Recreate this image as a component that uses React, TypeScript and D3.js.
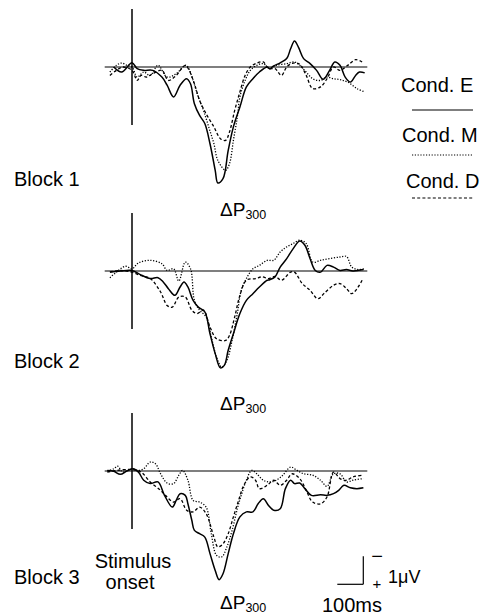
import React from "react";
import * as d3 from "d3";

type Pt = [number, number];

// time (ms) / amplitude (µV, positive plotted downward)
const e1: Pt[] = [[-70,0],[-40,0.18],[0,-0.15],[20,0.06],[45,0.12],[80,0.12],[115,0.36],[135,0.65],[160,1.07],[185,0.65],[210,0.42],[225,0.6],[240,1.31],[260,1.73],[280,2.02],[300,2.74],[320,3.69],[330,4.14],[350,3.99],[370,2.98],[390,2.14],[415,1.43],[440,0.71],[465,0.42],[490,0.18],[520,0],[530,0.06],[545,-0.04],[570,-0.15],[595,-0.3],[610,-0.65],[625,-0.93],[640,-0.71],[660,-0.3],[685,-0.12],[710,0.12],[735,0.44],[760,0.12],[780,-0.18],[800,-0.06],[820,0.36],[840,0.54],[860,0.3],[875,0.18],[895,0.21]];
const m1: Pt[] = [[-85,0.18],[-60,-0.06],[-40,-0.14],[-20,-0.06],[0,0],[20,0.36],[45,0.18],[70,0.3],[100,-0.06],[135,0.36],[170,0.24],[205,-0.06],[215,0],[235,0.48],[255,1.07],[275,1.55],[295,2.14],[315,2.74],[330,3.33],[360,3.69],[375,3.45],[390,2.62],[405,1.79],[415,1.07],[435,0.48],[455,0.12],[480,-0.06],[505,-0.12],[530,0.06],[555,-0.06],[595,-0.12],[625,-0.18],[645,-0.06],[670,0.18],[695,0.42],[725,0.48],[750,0.36],[775,0.42],[800,0.45],[830,0.54],[865,0.77],[895,0.89]];
const d1: Pt[] = [[-85,0.3],[-60,0.12],[-35,0],[0,0.12],[20,0.48],[35,0.3],[55,0.36],[80,0.24],[115,0.12],[140,0.48],[170,0.3],[205,-0.06],[220,0.12],[240,0.6],[260,1.19],[285,1.67],[315,2.14],[340,2.56],[360,2.62],[375,2.32],[395,1.55],[415,0.89],[435,0.3],[455,0],[480,-0.14],[505,-0.18],[525,0.06],[550,0.06],[575,0.3],[595,0],[620,-0.14],[645,-0.1],[670,0.3],[695,0.77],[725,0.71],[750,0.42],[775,0],[800,0.12],[830,-0.06],[860,-0.26],[885,-0.18]];

const e2: Pt[] = [[-85,0.04],[-45,0],[0,-0.02],[30,0.12],[70,0.27],[100,0.24],[120,0.39],[140,0.63],[165,0.87],[185,0.57],[200,0.39],[215,0.57],[235,1.05],[255,1.29],[280,1.46],[300,2.24],[320,2.95],[340,3.46],[355,3.37],[370,2.83],[390,2.24],[415,1.52],[440,1.05],[465,0.81],[490,0.57],[520,0.33],[530,0.31],[550,0.21],[570,-0.14],[595,-0.44],[620,-0.8],[645,-1.07],[665,-0.92],[685,-0.44],[705,-0.02],[725,0.04],[750,-0.2],[775,-0.14],[800,-0.02],[825,-0.05],[850,0],[890,-0.05]];
const m2: Pt[] = [[-85,0.24],[-60,0.04],[-25,-0.17],[0,-0.08],[25,-0.29],[70,-0.38],[115,-0.26],[135,-0.02],[160,-0.08],[180,0.36],[205,-0.32],[225,-0.08],[240,1.05],[260,1.4],[285,1.64],[305,2.36],[325,3.07],[345,3.43],[365,3.19],[385,2.48],[405,1.52],[420,0.69],[440,0.27],[465,-0.08],[490,-0.2],[520,-0.38],[545,-0.38],[570,-0.68],[595,-0.86],[620,-0.98],[645,-1.1],[670,-0.98],[695,-0.32],[725,-0.38],[760,-0.44],[800,-0.5],[825,-0.52],[845,-0.14],[870,-0.05],[895,-0.08]];
const d2: Pt[] = [[-85,0.04],[-45,-0.02],[0,0.04],[30,0.15],[70,0.27],[110,0.75],[135,1.23],[155,1.29],[180,0.93],[205,0.93],[230,1.4],[250,1.52],[275,1.4],[300,2.0],[325,2.42],[360,2.48],[375,2.3],[395,1.64],[415,0.87],[440,0.33],[475,0.27],[500,0.21],[525,0.27],[550,0.19],[575,0.33],[610,0.04],[625,0.04],[655,0.45],[685,0.69],[715,0.99],[740,0.79],[775,0.51],[800,0.45],[825,0.63],[845,0.81],[870,0.57],[885,0.33]];

const e3: Pt[] = [[-95,-0.02],[-70,0.01],[-45,0.12],[-20,0],[5,-0.08],[25,0.04],[45,0.33],[70,0.45],[100,0.39],[125,0.87],[155,1.29],[170,1.05],[185,0.81],[205,0.87],[215,1.17],[230,1.76],[240,2.12],[260,2.24],[280,2.36],[300,2.95],[320,3.55],[335,3.88],[350,3.67],[370,2.95],[390,2.24],[415,1.64],[440,1.46],[465,1.46],[485,1.17],[505,0.99],[525,1.23],[545,1.4],[570,1.35],[590,0.63],[610,0.33],[625,0.45],[645,0.43],[665,0.63],[690,0.87],[725,0.85],[750,0.87],[775,0.81],[795,0.69],[815,0.51],[840,0.6],[865,0.63],[890,0.6]];
const m3: Pt[] = [[-95,0],[-70,-0.08],[-55,-0.17],[-35,0.04],[0,-0.08],[25,-0.02],[45,-0.08],[70,-0.32],[90,-0.26],[110,0.1],[135,0.43],[160,0.45],[180,0.15],[195,-0.02],[215,0.33],[235,1.05],[260,1.11],[285,1.29],[305,2.24],[325,3.01],[345,3.07],[365,2.71],[385,2.12],[405,1.35],[420,0.87],[440,0.33],[460,-0.02],[480,0.1],[505,0.33],[530,0.39],[555,0.33],[580,0.15],[610,-0.14],[635,-0.02],[660,0.1],[695,0.15],[725,0.33],[750,0.55],[775,0.1],[800,0.1],[825,0.39],[850,0.33],[890,0.27]];
const d3_: Pt[] = [[-95,0.04],[-60,-0.02],[0,-0.05],[35,0.04],[70,0.39],[110,0.69],[135,0.93],[160,1.11],[185,0.99],[210,1.4],[235,1.46],[260,1.29],[285,1.52],[315,2.36],[330,2.71],[350,2.6],[370,2.24],[390,1.64],[410,1.05],[430,0.51],[455,0.21],[475,0.33],[490,0.63],[520,0.51],[545,0.33],[570,0.51],[595,0.33],[615,0.1],[645,0.27],[670,0.69],[695,1.11],[725,1.17],[750,0.93],[775,0.04],[800,0.27],[825,0.33],[850,0.21],[885,0.15]];

const blockNames = ["Block 1", "Block 2", "Block 3"];
const conditions = ["Cond. E", "Cond. M", "Cond. D"];
const blockData: Pt[][][] = [[e1, m1, d1], [e2, m2, d2], [e3, m3, d3_]];
const timeDomain = [-105, 905];

const W = 483, H = 616;
const baselines = [67, 271, 471];
const labelY = [186, 368, 584];
const deltaY = [216, 410, 609];
const styles = [
  { dash: "none", w: 1.5 },
  { dash: "1.2,1.6", w: 1.3 },
  { dash: "3,2.2", w: 1.3 },
];
const FONT = "'Liberation Sans', Arial, Helvetica, sans-serif";

export default function App() {
  const x = d3.scaleLinear().domain([-100, 900]).range([106, 366]);
  const pxPerUv = 28;
  return (
    <svg width={W} height={H} style={{ position: "absolute", left: 0, top: 0, background: "#fff" }} fontFamily={FONT}>
      {blockData.map((series, bi) => {
        const base = baselines[bi];
        const y = d3.scaleLinear().domain([0, 1]).range([base, base + pxPerUv]);
        const line = d3.line<Pt>().x(d => x(d[0])).y(d => y(d[1])).curve(d3.curveCatmullRom.alpha(0.5));
        return (
          <g key={bi}>
            <line x1={x(timeDomain[0])} x2={x(timeDomain[1])} y1={base} y2={base} stroke="#000" strokeWidth={1.2} />
            <line x1={x(0)} x2={x(0)} y1={y(-2.07)} y2={y(2.07)} stroke="#000" strokeWidth={1.5} />
            {series.map((s, si) => (
              <path key={si} d={line(s) || ""} fill="none" stroke="#000" strokeWidth={styles[si].w} strokeDasharray={styles[si].dash} />
            ))}
            <text x={14} y={labelY[bi]} fontSize={20}>{blockNames[bi]}</text>
            <text x={220} y={deltaY[bi]} fontSize={19}>
              ΔP<tspan fontSize={12.5} dy={2.5}>300</tspan>
            </text>
          </g>
        );
      })}
      {/* legend */}
      {conditions.map((c, i) => {
        const ty = [92, 142, 188][i];
        const ly = [110, 155, 198][i];
        const tx = [401, 402, 406][i];
        return (
          <g key={c}>
            <text x={tx} y={ty} fontSize={20}>{c}</text>
            <line x1={412} x2={473} y1={ly} y2={ly} stroke="#000" strokeWidth={styles[i].w * 0.8} strokeDasharray={styles[i].dash} />
          </g>
        );
      })}
      {/* stimulus onset */}
      <text x={133} y={568} fontSize={20} textAnchor="middle">Stimulus</text>
      <text x={130} y={589} fontSize={20} textAnchor="middle">onset</text>
      {/* scale bar: 100 ms horizontal, 1 µV vertical */}
      <line x1={x(-100) + 231.3} x2={x(0) + 231.3} y1={584.3} y2={584.3} stroke="#000" strokeWidth={1.2} />
      <line x1={363.3} x2={363.3} y1={584.3 - pxPerUv} y2={584.3} stroke="#000" strokeWidth={1.2} />
      <text x={377} y={563} fontSize={20} textAnchor="middle">−</text>
      <text x={377} y={589} fontSize={15} textAnchor="middle">+</text>
      <text x={388} y={583} fontSize={18}>1μV</text>
      <text x={352} y={612} fontSize={20} textAnchor="middle">100ms</text>
    </svg>
  );
}
